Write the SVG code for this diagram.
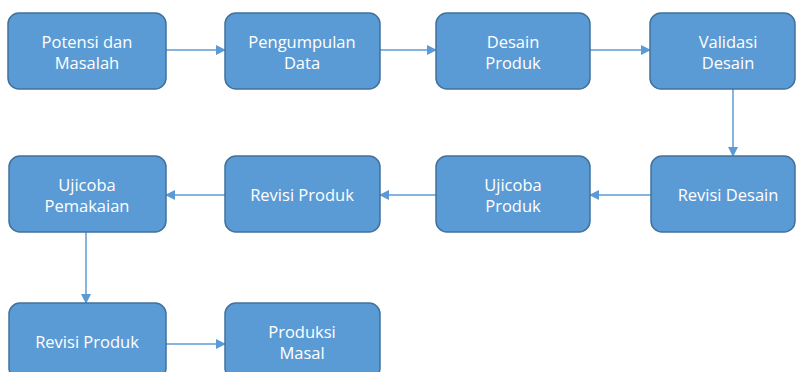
<svg xmlns="http://www.w3.org/2000/svg" width="796" height="372" viewBox="0 0 796 372">
<defs>
<marker id="ah" markerWidth="10" markerHeight="10" refX="9" refY="5" orient="auto" markerUnits="userSpaceOnUse">
<path d="M0,0 L10,5 L0,10 Z" fill="#5B9BD5"/>
</marker>
</defs>
<style>
.box{fill:#5B9BD5;stroke:#41719C;stroke-width:1.5}
.t{fill:#ffffff;font-family:"Open Sans","Liberation Sans",sans-serif;font-size:16.5px;text-anchor:middle}
.c{stroke:#5B9BD5;stroke-width:1.5;fill:none;marker-end:url(#ah)}
</style>
<rect width="796" height="372" fill="#ffffff"/>
<g id="connectors">
<line class="c" x1="166" y1="50" x2="225" y2="50"/>
<line class="c" x1="380" y1="50" x2="436" y2="50"/>
<line class="c" x1="590" y1="50" x2="650" y2="50"/>
<line class="c" x1="733" y1="89" x2="733" y2="156"/>
<line class="c" x1="651" y1="195" x2="590" y2="195"/>
<line class="c" x1="436" y1="195" x2="380" y2="195"/>
<line class="c" x1="225" y1="195" x2="166" y2="195"/>
<line class="c" x1="86" y1="232" x2="86" y2="303"/>
<line class="c" x1="166" y1="344" x2="225" y2="344"/>
</g>
<g id="n1"><rect class="box" x="8" y="13" width="158" height="76" rx="11"/><text class="t" x="87" y="48">Potensi dan</text><text class="t" x="87" y="69">Masalah</text></g>
<g id="n2"><rect class="box" x="225" y="13" width="155" height="76" rx="11"/><text class="t" x="302" y="48">Pengumpulan</text><text class="t" x="302" y="69">Data</text></g>
<g id="n3"><rect class="box" x="436" y="13" width="154" height="76" rx="11"/><text class="t" x="513" y="48">Desain</text><text class="t" x="513" y="69">Produk</text></g>
<g id="n4"><rect class="box" x="650" y="13" width="145" height="76" rx="11"/><text class="t" x="728" y="48">Validasi</text><text class="t" x="728" y="69">Desain</text></g>
<g id="n5"><rect class="box" x="651" y="156" width="144" height="76" rx="11"/><text class="t" x="728" y="201">Revisi Desain</text></g>
<g id="n6"><rect class="box" x="436" y="156" width="154" height="76" rx="11"/><text class="t" x="513" y="191">Ujicoba</text><text class="t" x="513" y="212">Produk</text></g>
<g id="n7"><rect class="box" x="225" y="156" width="155" height="76" rx="11"/><text class="t" x="302" y="201">Revisi Produk</text></g>
<g id="n8"><rect class="box" x="9" y="156" width="157" height="76" rx="11"/><text class="t" x="87" y="191">Ujicoba</text><text class="t" x="87" y="212">Pemakaian</text></g>
<g id="n9"><rect class="box" x="9" y="303" width="157" height="76" rx="11"/><text class="t" x="87" y="348">Revisi Produk</text></g>
<g id="n10"><rect class="box" x="225" y="303" width="155" height="76" rx="11"/><text class="t" x="302" y="338">Produksi</text><text class="t" x="302" y="359">Masal</text></g>
</svg>
